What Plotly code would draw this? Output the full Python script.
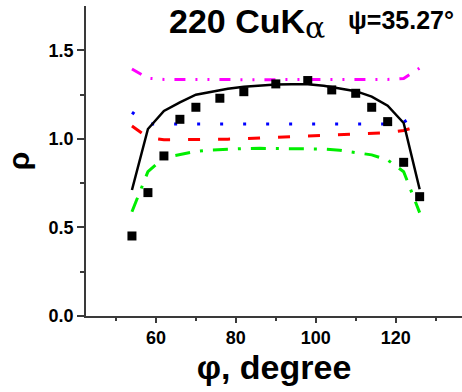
import plotly.graph_objects as go

# model curves sampled at phi (degrees)
phi_model = [54, 58, 62, 66, 70, 74, 78, 82, 86, 90, 94, 98, 102, 106, 110, 114, 118, 122, 126]
rho_black = [0.712, 1.056, 1.158, 1.207, 1.250, 1.268, 1.283, 1.295, 1.303, 1.307, 1.309, 1.309,
             1.300, 1.287, 1.270, 1.239, 1.188, 1.090, 0.716]
rho_magenta = [1.395, 1.343, 1.336, 1.335, 1.335, 1.335, 1.335, 1.335, 1.335, 1.335, 1.335, 1.335,
               1.335, 1.335, 1.335, 1.335, 1.336, 1.342, 1.400]
rho_blue = [1.151, 1.085, 1.084, 1.084, 1.084, 1.084, 1.084, 1.084, 1.084, 1.084, 1.084, 1.084,
            1.084, 1.084, 1.084, 1.084, 1.085, 1.095, 1.150]
rho_red = [1.073, 1.008, 0.995, 0.995, 0.996, 0.997, 0.999, 1.002, 1.006, 1.009, 1.013, 1.016,
           1.020, 1.024, 1.028, 1.032, 1.036, 1.048, 1.075]
rho_green = [0.589, 0.815, 0.894, 0.912, 0.930, 0.938, 0.943, 0.946, 0.947, 0.947, 0.947, 0.946,
             0.943, 0.936, 0.925, 0.910, 0.881, 0.815, 0.584]

# measured points
phi_exp = [54, 58, 62, 66, 70, 76, 82, 90, 98, 104, 110, 114, 118, 122, 126]
rho_exp = [0.452, 0.697, 0.904, 1.111, 1.179, 1.230, 1.267, 1.311, 1.330, 1.277, 1.258, 1.179,
           1.098, 0.868, 0.674]

x_ticks = [60, 80, 100, 120]
y_ticks = [0.0, 0.5, 1.0, 1.5]

FONT = "Arial, 'Liberation Sans', sans-serif"
AX = "#3a3a3a"

fig = go.Figure()
fig.add_trace(go.Scatter(x=phi_model, y=rho_magenta, mode="lines",
                         line=dict(color="#ff00ff", width=3, dash="11px,10px,2px,10px,2px,10px")))
fig.add_trace(go.Scatter(x=phi_model, y=rho_blue, mode="lines",
                         line=dict(color="#0000ff", width=3, dash="3px,20px")))
fig.add_trace(go.Scatter(x=phi_model, y=rho_red, mode="lines",
                         line=dict(color="#ff0000", width=3, dash="12px,18px")))
fig.add_trace(go.Scatter(x=phi_model, y=rho_green, mode="lines",
                         line=dict(color="#00ee00", width=3, dash="15px,10px,3px,10px")))
fig.add_trace(go.Scatter(x=phi_model, y=rho_black, mode="lines",
                         line=dict(color="#000000", width=2.5)))
fig.add_trace(go.Scatter(x=phi_exp, y=rho_exp, mode="markers",
                         marker=dict(symbol="square", size=9, color="#000000")))

fig.update_layout(
    width=462, height=392,
    margin=dict(l=86, r=0, t=6, b=76, autoexpand=False),
    paper_bgcolor="white", plot_bgcolor="white",
    showlegend=False,
    font=dict(family=FONT, color="black"),
)
fig.update_xaxes(
    range=[42.5, 136.6], tickvals=x_ticks, ticktext=[str(v) for v in x_ticks],
    showline=True, linecolor=AX, linewidth=1.5, mirror=False, automargin=False,
    ticks="outside", ticklen=5, tickwidth=1.5, tickcolor=AX,
    minor=dict(tickvals=[50, 70, 90, 110, 130], ticks="outside", ticklen=3, tickwidth=1.5, tickcolor=AX),
    showgrid=False, zeroline=False,
    tickfont=dict(size=18, family=FONT, weight="bold"),
    title=dict(text="φ, degree", font=dict(size=34, family=FONT, weight="bold"), standoff=4),
)
fig.update_yaxes(
    range=[0, 1.751], tickvals=y_ticks, ticktext=["%.1f" % v for v in y_ticks],
    showline=True, linecolor=AX, linewidth=1.5, automargin=False,
    ticks="outside", ticklen=7, tickwidth=1.5, tickcolor=AX,
    minor=dict(tickvals=[0.25, 0.75, 1.25], ticks="outside", ticklen=4, tickwidth=1.5, tickcolor=AX),
    showgrid=False, zeroline=False,
    tickfont=dict(size=18, family=FONT, weight="bold"),
    title=dict(text="ρ", font=dict(size=30, family=FONT, weight="bold"), standoff=10),
)
fig.add_annotation(xref="paper", yref="paper", x=(167 - 86) / 376, y=(316 - 21) / 310,
                   xanchor="left", yanchor="middle",
                   text="220 CuK", showarrow=False,
                   font=dict(size=34, family=FONT, weight="bold", color="black"))
fig.add_annotation(xref="paper", yref="paper", x=(303 - 86) / 376, y=(316 - 28) / 310,
                   xanchor="left", yanchor="middle",
                   text="α", showarrow=False,
                   font=dict(size=30, family="'DejaVu Serif', serif", color="black"))
fig.add_annotation(xref="paper", yref="paper", x=(346 - 86) / 376, y=(316 - 20) / 310,
                   xanchor="left", yanchor="middle",
                   text="ψ=35.27°", showarrow=False,
                   font=dict(size=25, family=FONT, weight="bold", color="black"))

fig.write_html("out.html", config={"displayModeBar": False},
               post_script="document.body.style.margin='0';document.body.style.overflow='hidden';")
